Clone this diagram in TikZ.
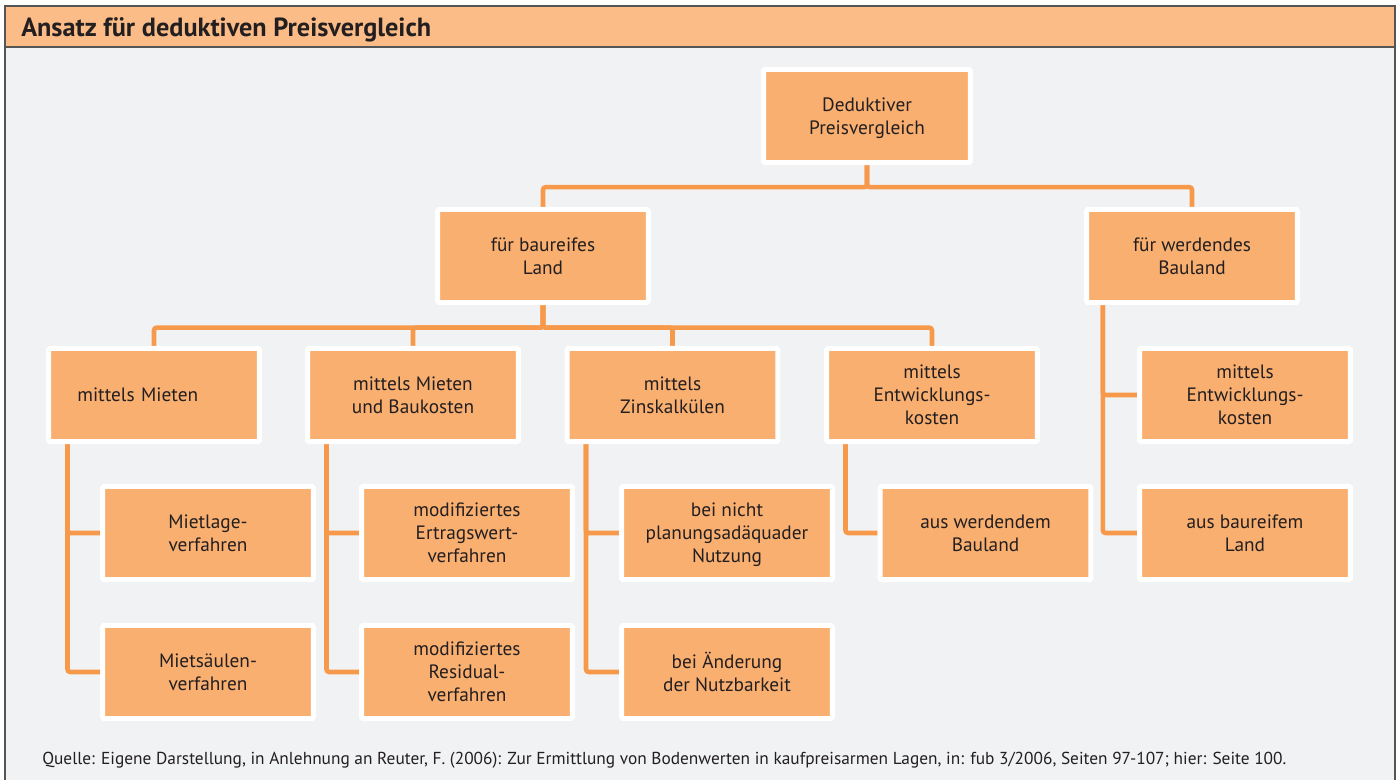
\documentclass[tikz,border=0pt]{standalone}
\usepackage{fontspec}
\setmainfont{PT Sans}
\usetikzlibrary{backgrounds}

\definecolor{boxfill}{RGB}{249,175,112}
\definecolor{linecol}{RGB}{247,153,74}
\definecolor{titlefill}{RGB}{251,188,136}
\definecolor{bgcol}{RGB}{241,242,244}
\definecolor{framecol}{RGB}{85,85,85}
\definecolor{textcol}{RGB}{35,31,32}

\tikzset{
  box/.style={draw=white, line width=3.75pt, fill=boxfill, rounded corners=1pt,
    minimum width=158pt, minimum height=70pt, align=center, inner sep=2pt,
    text depth=0pt, text=textcol, font=\fontsize{14.5}{17.2}\selectfont},
  conn/.style={draw=linecol, line width=3.4pt, rounded corners=2pt},
}

\begin{document}
\begin{tikzpicture}[x=0.75pt,y=0.75pt,yscale=-1,xscale=1]
\useasboundingbox (0,0) rectangle (1399,780);

% Frame and title bar
\begin{pgfonlayer}{background}
\fill[bgcol] (5,6) rectangle (1395,790);
\fill[titlefill] (5,6) rectangle (1395,47);
\draw[framecol, line width=1.5pt] (5,790) -- (5,6) -- (1395,6) -- (1395,790);
\draw[framecol, line width=1pt] (5,47) -- (1395,47);
\end{pgfonlayer}

% Title
\node[anchor=west, inner sep=0pt, text=textcol, font=\bfseries\fontsize{19.7}{23}\selectfont] (titel) at (21,30) {Ansatz für deduktiven Preisvergleich};

% Level 1 and 2
\node[box, minimum width=155pt] (deduktiv) at (867,116) {Deduktiver\\Preisvergleich};
\node[box] (baureif) at (543,256) {für baureifes\\Land};
\node[box] (werdend) at (1192,256) {für werdendes\\Bauland};

% Level 3
\node[box, align=left, text width=115pt, inner xsep=21.4pt] (mieten) at (154,395) {mittels Mieten};
\node[box] (baukosten) at (413,395) {mittels Mieten\\und Baukosten};
\node[box] (zins) at (672.5,395) {mittels\\Zinskalkülen};
\node[box] (entw) at (932,395) {mittels\\Entwicklungs-\\kosten};
\node[box] (entwzwei) at (1245,395) {mittels\\Entwicklungs-\\kosten};

% Level 4
\node[box] (mietlage) at (208,533) {Mietlage-\\verfahren};
\node[box] (mietsaeulen) at (208,672) {Mietsäulen-\\verfahren};
\node[box] (ertrag) at (467,533) {modifiziertes\\Ertragswert-\\verfahren};
\node[box] (residual) at (467,672) {modifiziertes\\Residual-\\verfahren};
\node[box] (nichtadaequat) at (727,533) {bei nicht\\planungsadäquader\\Nutzung};
\node[box] (aenderung) at (727,672) {bei Änderung\\der Nutzbarkeit};
\node[box] (auswerdend) at (985.5,533) {aus werdendem\\Bauland};
\node[box] (ausbaureif) at (1245,533) {aus baureifem\\Land};

% Source
\node[anchor=west, inner sep=0pt, text=textcol, font=\fontsize{13}{15}\selectfont] (quelle) at (42,760) {Quelle: Eigene Darstellung, in Anlehnung an Reuter, F. (2006): Zur Ermittlung von Bodenwerten in kaufpreisarmen Lagen, in: fub 3/2006, Seiten 97-107; hier: Seite 100.};

% Connectors
\begin{pgfonlayer}{background}
\draw[conn] (deduktiv.south) -- ++(0,22) -| (baureif.north);
\draw[conn] (deduktiv.south) -- ++(0,22) -| (werdend.north);
\draw[conn] (baureif.south) -- ++(0,22.5) -| (mieten.north);
\draw[conn] (baureif.south) -- ++(0,22.5) -| (baukosten.north);
\draw[conn] (baureif.south) -- ++(0,22.5) -| (zins.north);
\draw[conn] (baureif.south) -- ++(0,22.5) -| (entw.north);
\draw[conn] ([xshift=16pt]mieten.south west) |- (mietlage.west);
\draw[conn] ([xshift=16pt]mieten.south west) |- (mietsaeulen.west);
\draw[conn] ([xshift=16pt]baukosten.south west) |- (ertrag.west);
\draw[conn] ([xshift=16pt]baukosten.south west) |- (residual.west);
\draw[conn] ([xshift=16pt]zins.south west) |- (nichtadaequat.west);
\draw[conn] ([xshift=16pt]zins.south west) |- (aenderung.west);
\draw[conn] ([xshift=16pt]entw.south west) |- (auswerdend.west);
\draw[conn] ([xshift=14pt]werdend.south west) |- (entwzwei.west);
\draw[conn] ([xshift=14pt]werdend.south west) |- (ausbaureif.west);
\end{pgfonlayer}

\end{tikzpicture}
\end{document}
